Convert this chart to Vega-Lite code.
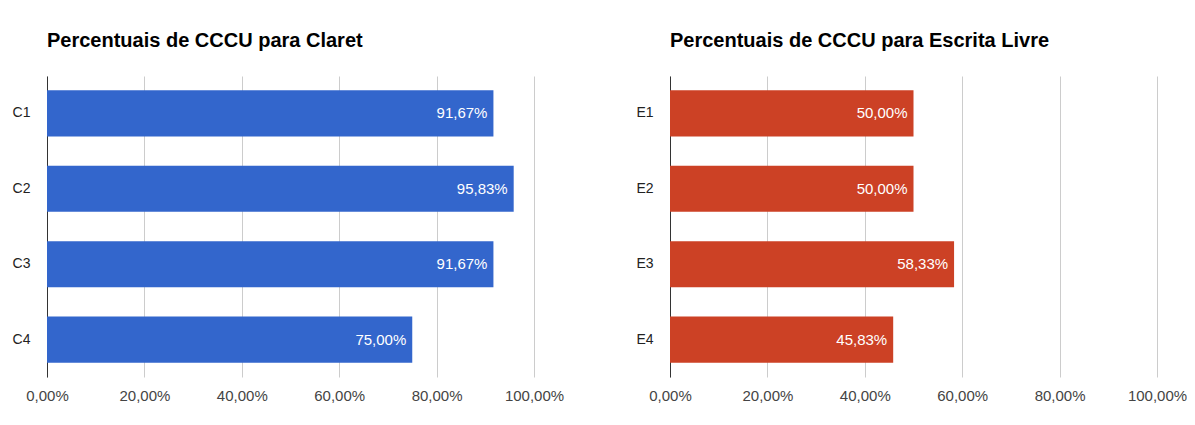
{
  "$schema": "https://vega.github.io/schema/vega-lite/v6.json",
  "padding": {"left": 12, "top": 31, "right": 0, "bottom": 0},
  "background": "white",
  "datasets": {
    "claret": [
      {"cat": "C1", "value": 0.9167},
      {"cat": "C2", "value": 0.9583},
      {"cat": "C3", "value": 0.9167},
      {"cat": "C4", "value": 0.75}
    ],
    "livre": [
      {"cat": "E1", "value": 0.5},
      {"cat": "E2", "value": 0.5},
      {"cat": "E3", "value": 0.5833},
      {"cat": "E4", "value": 0.4583}
    ]
  },
  "spacing": 136,
  "bounds": "flush",
  "hconcat": [
    {
      "width": 487,
      "height": 301,
      "title": {"text": "Percentuais de CCCU para Claret"},
      "data": {"name": "claret"},
      "encoding": {
        "y": {"field": "cat", "type": "nominal", "title": null,
              "scale": {"paddingInner": 0.389, "paddingOuter": 0.19}},
        "x": {"field": "value", "type": "quantitative", "title": null,
              "scale": {"domain": [0, 1], "nice": false},
              "axis": {"format": ".2%", "values": [0, 0.2, 0.4, 0.6, 0.8, 1]}}
      },
      "layer": [
        {"mark": {"type": "bar", "color": "#3366cc"}},
        {"mark": {"type": "text", "align": "right", "baseline": "middle", "dx": -6, "color": "white", "fontSize": 15, "font": "Liberation Sans"},
         "encoding": {"text": {"field": "value", "type": "quantitative", "format": ".2%"}}}
      ]
    },
    {
      "width": 487,
      "height": 301,
      "title": {"text": "Percentuais de CCCU para Escrita Livre"},
      "data": {"name": "livre"},
      "encoding": {
        "y": {"field": "cat", "type": "nominal", "title": null,
              "scale": {"paddingInner": 0.389, "paddingOuter": 0.19}},
        "x": {"field": "value", "type": "quantitative", "title": null,
              "scale": {"domain": [0, 1], "nice": false},
              "axis": {"format": ".2%", "values": [0, 0.2, 0.4, 0.6, 0.8, 1]}}
      },
      "layer": [
        {"mark": {"type": "bar", "color": "#cc4125"}},
        {"mark": {"type": "text", "align": "right", "baseline": "middle", "dx": -6, "color": "white", "fontSize": 15, "font": "Liberation Sans"},
         "encoding": {"text": {"field": "value", "type": "quantitative", "format": ".2%"}}}
      ]
    }
  ],
  "config": {
    "locale": {"number": {"decimal": ",", "thousands": ".", "grouping": [3], "currency": ["R$", ""]}},
    "view": {"stroke": null},
    "font": "Liberation Sans",
    "title": {"anchor": "start", "frame": "group", "font": "Liberation Sans", "fontSize": 20, "fontWeight": "bold", "color": "#000", "baseline": "alphabetic", "offset": 25},
    "axis": {"labelFont": "Liberation Sans", "ticks": false},
    "axisX": {"domain": false, "grid": true, "gridColor": "#cccccc", "labelColor": "#444444", "labelFontSize": 15, "labelPadding": 11, "labelFlush": false},
    "axisY": {"domain": true, "domainColor": "#333333", "grid": false, "labelColor": "#222222", "labelFontSize": 14, "labelPadding": 17}
  }
}
